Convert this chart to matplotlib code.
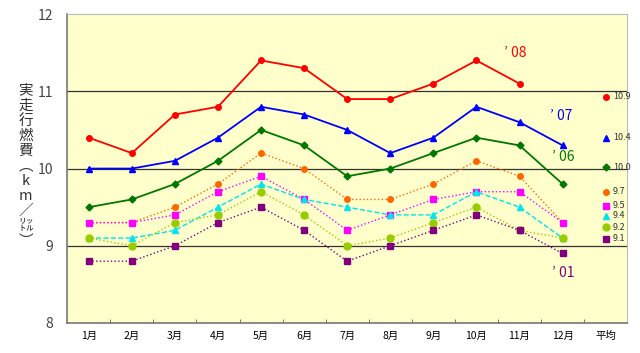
import numpy as np
import matplotlib.pyplot as plt

plt.rcParams['font.family'] = ['Noto Sans CJK JP', 'DejaVu Sans']

months = ['1月', '2月', '3月', '4月', '5月', '6月', '7月', '8月', '9月', '10月', '11月', '12月', '平均']

y08 = [10.4, 10.2, 10.7, 10.8, 11.4, 11.3, 10.9, 10.9, 11.1, 11.4, 11.1]
y07 = [10.0, 10.0, 10.1, 10.4, 10.8, 10.7, 10.5, 10.2, 10.4, 10.8, 10.6, 10.3]
y06 = [9.5, 9.6, 9.8, 10.1, 10.5, 10.3, 9.9, 10.0, 10.2, 10.4, 10.3, 9.8]
y05 = [9.3, 9.3, 9.5, 9.8, 10.2, 10.0, 9.6, 9.6, 9.8, 10.1, 9.9, 9.3]
y04 = [9.3, 9.3, 9.4, 9.7, 9.9, 9.6, 9.2, 9.4, 9.6, 9.7, 9.7, 9.3]
y03 = [9.1, 9.1, 9.2, 9.5, 9.8, 9.6, 9.5, 9.4, 9.4, 9.7, 9.5, 9.1]
y02 = [9.1, 9.0, 9.3, 9.4, 9.7, 9.4, 9.0, 9.1, 9.3, 9.5, 9.2, 9.1]
y01 = [8.8, 8.8, 9.0, 9.3, 9.5, 9.2, 8.8, 9.0, 9.2, 9.4, 9.2, 8.9]

avg_vals = [10.9, 10.4, 10.0, 9.7, 9.5, 9.4, 9.2, 9.1]
avg_pos = [10.93, 10.40, 10.02, 9.70, 9.52, 9.39, 9.24, 9.09]

series = [
    (y08, '#ff0000', 'o', '-', 4),
    (y07, '#0000ff', '^', '-', 5),
    (y06, '#007700', 'D', '-', 3.5),
    (y05, '#ff6600', 'o', ':', 4),
    (y04, '#ff00ff', 's', ':', 5),
    (y03, '#00e5ee', '^', '--', 5),
    (y02, '#99cc00', 'o', ':', 5),
    (y01, '#800080', 's', ':', 4.5),
]

fig = plt.figure(figsize=(6.4, 3.53), dpi=100)
ax = fig.add_axes([0.105, 0.085, 0.875, 0.875])
ax.set_facecolor('#ffffcc')

for vals, c, m, ls, ms in series:
    x = np.arange(len(vals))
    lw = 1.3 if ls == '-' else 1.0
    ax.plot(x, vals, color=c, marker=m, linestyle=ls, linewidth=lw, markersize=ms)

# average column
for (vals, c, m, ls, ms), v, p in zip(series, avg_vals, avg_pos):
    ax.plot(12, p, color=c, marker=m, markersize=ms, linestyle='none')
    ax.text(12.17, p, f'{v:.1f}', fontsize=6.5, va='center', ha='left', color='#333333')

ax.text(9.65, 11.45, '’ 08', color='#ff0000', fontsize=10)
ax.text(10.7, 10.63, '’ 07', color='#0000ff', fontsize=10)
ax.text(10.75, 10.1, '’ 06', color='#007700', fontsize=10)
ax.text(10.75, 8.6, '’ 01', color='#800080', fontsize=10)

for gy in [9, 10, 11]:
    ax.axhline(gy, color='#333333', linewidth=0.9, zorder=0.5)

ax.set_xlim(-0.5, 12.5)
ax.set_ylim(8, 12)
ax.set_yticks([8, 9, 10, 11, 12])
ax.tick_params(axis='y', length=0, labelsize=10, labelcolor='#444444', pad=10)
ax.set_xticks(np.arange(13))
ax.set_xticklabels(months, fontsize=7.5)
ax.tick_params(axis='x', length=0, pad=6)
ax.set_xticks(np.arange(13) + 0.5, minor=True)
ax.tick_params(axis='x', which='minor', direction='in', length=3, color='#666666')

for s in ['top', 'right']:
    ax.spines[s].set_color('#bbbbbb')
for s in ['left', 'bottom']:
    ax.spines[s].set_color('#777777')
    ax.spines[s].set_linewidth(1.2)

fig.text(0.04, 0.53, '実\n走\n行\n燃\n費\n︵\nk\nm\n／\n㍑\n︶', fontsize=10.5,
         ha='center', va='center', linespacing=1.1, color='#333333')

fig.savefig('out.png', dpi=100, facecolor='white')
